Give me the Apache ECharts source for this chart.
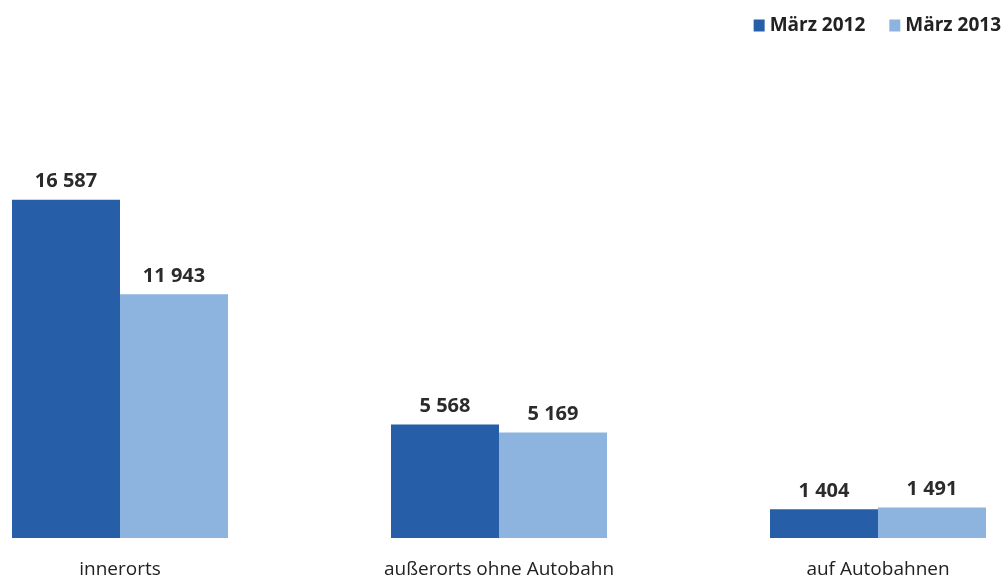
<!DOCTYPE html>
<html>
<head>
<meta charset="utf-8">
<script src="https://cdn.jsdelivr.net/npm/echarts@6/dist/echarts.min.js"></script>
<style>
  html, body { margin: 0; padding: 0; background: #fff; }
  #chart { width: 1008px; height: 583px; }
</style>
</head>
<body>
<div id="chart"></div>
<script>
const categories = ["innerorts", "außerorts ohne Autobahn", "auf Autobahnen"];
const seriesNames = ["März 2012", "März 2013"];
const values2012 = [16587, 5568, 1404];
const values2013 = [11943, 5169, 1491];
const colors = ["#265fa8", "#8cb4df"];

// "16587" -> "16 587"
const fmt = v => String(v).replace(/\B(?=(\d{3})+(?!\d))/g, " ");

const myChart = echarts.init(document.getElementById("chart"));

const barLabel = {
  show: true,
  position: "top",
  distance: 8,
  formatter: p => fmt(p.value),
  color: "#2b2b2b",
  fontSize: 20,
  fontWeight: "bold",
  fontFamily: "Open Sans, sans-serif"
};

myChart.setOption({
  animation: false,
  color: colors,
  legend: {
    right: 2,
    top: 11,
    itemWidth: 11,
    itemHeight: 12,
    itemGap: 24,
    icon: "rect",
    textStyle: {
      color: "#222",
      fontSize: 19,
      fontWeight: "bold",
      fontFamily: "Open Sans, sans-serif"
    },
    data: seriesNames
  },
  // categories sit on the ticks, so one band = 379px and the outer bars reach past the grid
  grid: { left: 120, right: 130, top: 130, bottom: 45 },
  xAxis: {
    type: "category",
    data: categories,
    boundaryGap: false,
    axisLine: { show: false },
    axisTick: { show: false },
    axisLabel: {
      margin: 22,
      fontSize: 19,
      color: "#222",
      fontFamily: "Open Sans, sans-serif"
    }
  },
  yAxis: {
    type: "value",
    min: 0,
    max: 20000,
    show: false,
    splitLine: { show: false }
  },
  series: [
    {
      name: seriesNames[0],
      type: "bar",
      data: values2012,
      barWidth: 108,
      barGap: "0%",
      clip: false,
      label: barLabel
    },
    {
      name: seriesNames[1],
      type: "bar",
      data: values2013,
      barWidth: 108,
      clip: false,
      label: barLabel
    }
  ]
});
</script>
</body>
</html>
